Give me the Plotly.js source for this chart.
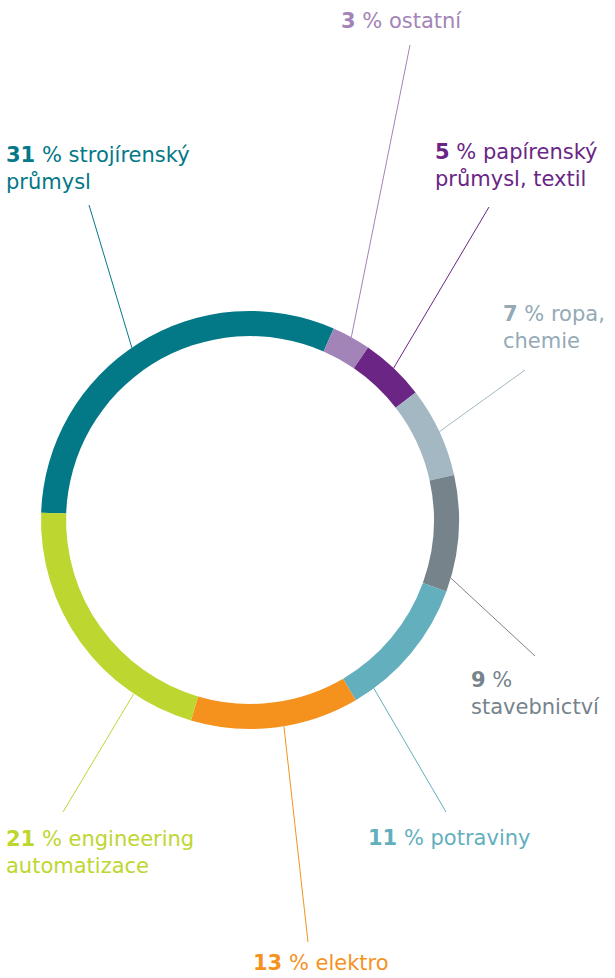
<!DOCTYPE html>
<html>
<head>
<meta charset="utf-8">
<script src="https://cdn.plot.ly/plotly-3.0.1.min.js"></script>
<style>html,body{margin:0;padding:0;background:#fff;}#chart{width:615px;height:978px;}</style>
</head>
<body>
<div id="chart"></div>
<script>
// Data
const categories = ["strojírenský průmysl", "ostatní", "papírenský průmysl, textil", "ropa, chemie", "stavebnictví", "potraviny", "elektro", "engineering automatizace"];
const values = [31, 3, 5, 7, 9, 11, 13, 21];
const labelTexts = [
  "% strojírenský<br>průmysl",
  "% ostatní",
  "% papírenský<br>průmysl, textil",
  "% ropa,<br>chemie",
  "%<br>stavebnictví",
  "% potraviny",
  "% elektro",
  "% engineering<br>automatizace"
];
const colors = ["#037887", "#A384B8", "#6A2585", "#A3B8C3", "#76838B", "#63AFBE", "#F5921E", "#BED630"];
const textColors = ["#037887", "#A384B8", "#6A2585", "#94AAB6", "#76838B", "#63AFBE", "#F5921E", "#BED630"];

// Layout (pixel positions)
const W = 615, H = 978;
const cx = 250, cy = 520, R = 209;
const rotation = 272;
const labelPos = [[4,168],[339,21],[433,165],[501,327],[469,693],[366,838],[251,963],[4,852]];
const lineEnds = [[89,205],[410,45],[489,207],[525,370],[535,656],[446,812],[308,942],[63,812]];
const anchorFrac = [0.48, 0.5, 0.5, 0.5, 0.88, 0.85, 0.45, 0.23];

const px = x => x / W;
const py = y => 1 - y / H;

const total = values.reduce((a, b) => a + b, 0);
let cum = 0;
const shapes = [], annotations = [];
values.forEach((v, i) => {
  const ang = rotation + (cum + v * anchorFrac[i]) / total * 360;
  cum += v;
  const a = ang * Math.PI / 180;
  const sx = cx + R * Math.sin(a), sy = cy - R * Math.cos(a);
  shapes.push({type: 'line', xref: 'paper', yref: 'paper',
    x0: px(sx), y0: py(sy), x1: px(lineEnds[i][0]), y1: py(lineEnds[i][1]),
    line: {color: colors[i], width: 1}});
  annotations.push({xref: 'paper', yref: 'paper', x: px(labelPos[i][0]), y: py(labelPos[i][1]),
    xanchor: 'left', yanchor: 'middle', align: 'left', showarrow: false,
    text: '<b>' + v + '</b> ' + labelTexts[i],
    font: {family: 'DejaVu Sans, sans-serif', size: 21, color: textColors[i]}});
});

const trace = {
  type: 'pie', values: values, labels: categories, sort: false, direction: 'clockwise',
  rotation: rotation, hole: 0.88, textinfo: 'none', hoverinfo: 'none',
  marker: {colors: colors, line: {width: 0}},
  domain: {x: [px(cx - R), px(cx + R)], y: [py(cy + R), py(cy - R)]},
  showlegend: false
};

Plotly.newPlot('chart', [trace], {
  width: W, height: H, margin: {l: 0, r: 0, t: 0, b: 0},
  paper_bgcolor: '#fff', plot_bgcolor: '#fff', showlegend: false,
  shapes: shapes, annotations: annotations
}, {staticPlot: true});
</script>
</body>
</html>
